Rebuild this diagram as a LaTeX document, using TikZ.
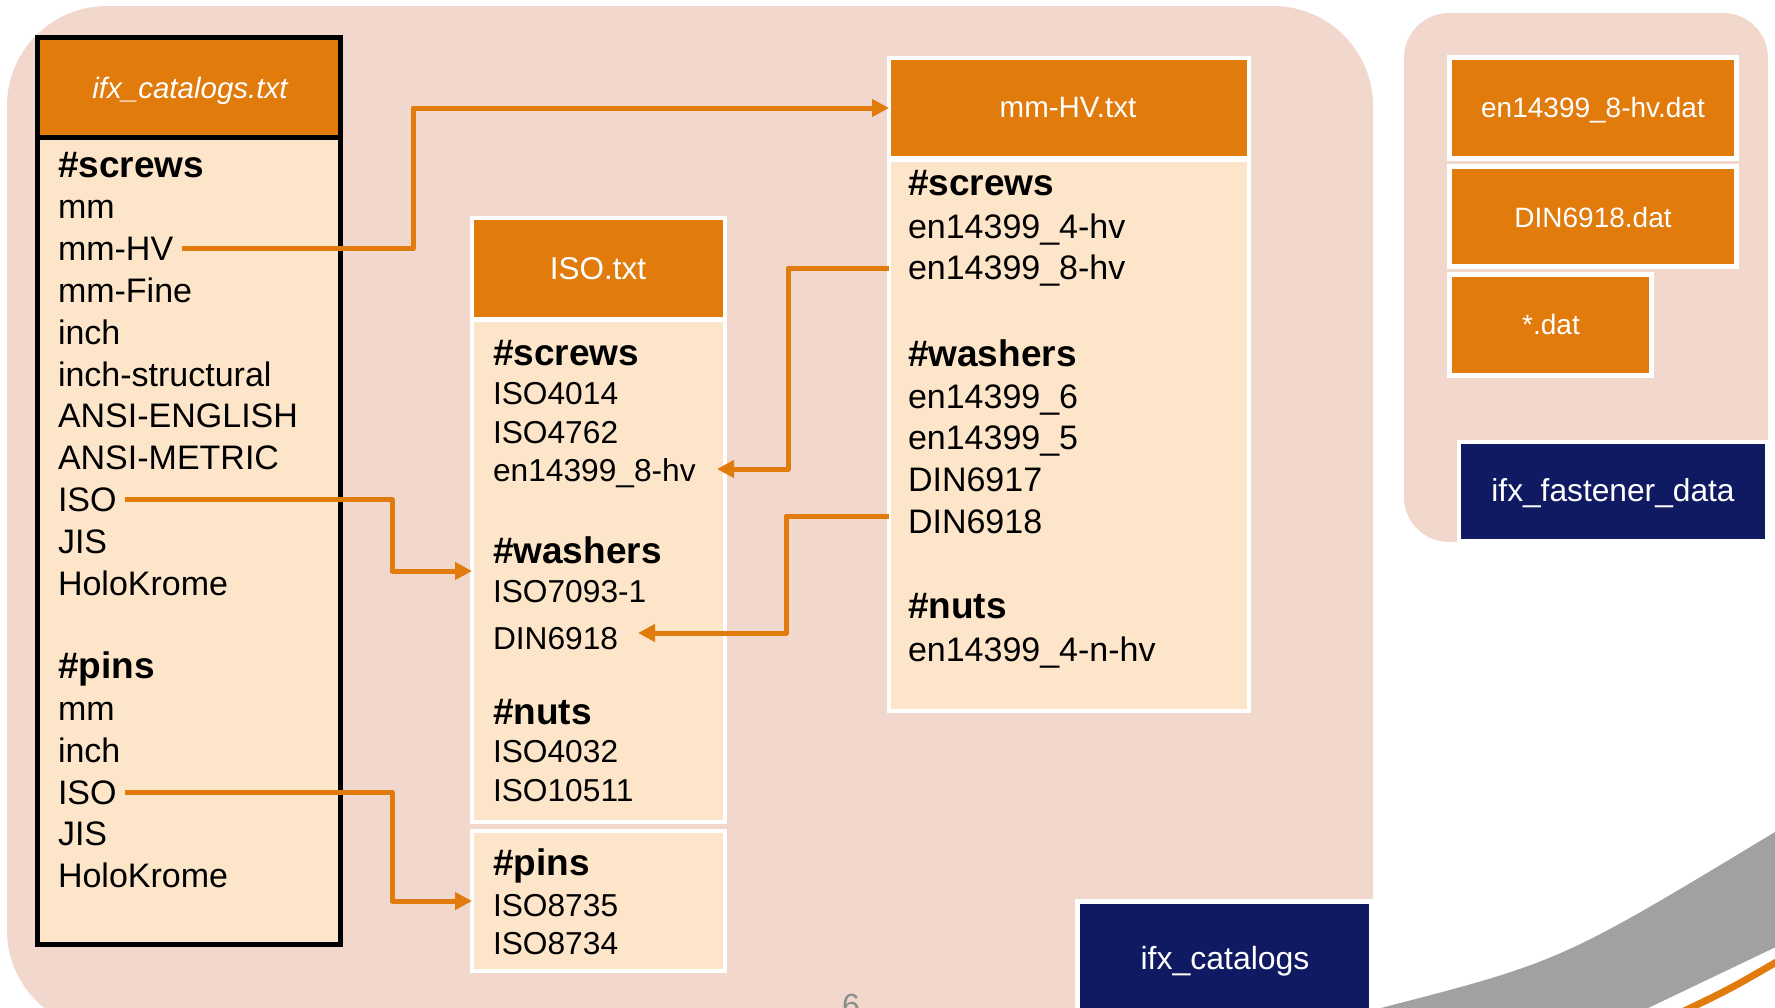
\documentclass[tikz,border=0pt]{standalone}
\usepackage{fontspec}
\setmainfont{Liberation Sans}
\usetikzlibrary{arrows.meta,calc}
\definecolor{bgpink}{HTML}{F2D7CD}
\definecolor{peach}{HTML}{FDE5C9}
\definecolor{hdrorange}{HTML}{E07B0C}
\definecolor{navy}{HTML}{0F1A62}
\definecolor{swooshgray}{HTML}{A1A1A1}
\definecolor{pagegray}{HTML}{8C8C8C}
\begin{document}
\begin{tikzpicture}[x=1pt,y=-1pt,
  rect/.style={anchor=north west, inner sep=0pt, outer sep=0pt},
  blackhdr/.style={rect, fill=hdrorange, draw=black, line width=5pt},
  blackbody/.style={rect, fill=peach, draw=black, line width=5pt},
  whitehdr/.style={rect, fill=hdrorange, draw=white, line width=4pt},
  whitebody/.style={rect, fill=peach, draw=white, line width=4pt},
  datbox/.style={rect, fill=hdrorange, draw=white, line width=5pt},
  bluebox/.style={rect, fill=navy, draw=white, line width=4.5pt},
  item/.style={anchor=base west, inner sep=0pt, outer sep=0pt, text=black, font=\fontsize{34}{40}\selectfont},
  sitem/.style={item, font=\fontsize{31.7}{38}\selectfont},
  head/.style={item, font=\fontsize{37}{44}\selectfont\bfseries},
  title/.style={anchor=base, inner sep=0pt, outer sep=0pt, text=white, font=\fontsize{29.5}{35}\selectfont},
  conn/.style={draw=hdrorange, line width=5pt, line join=round},
  tip/.style={-{Triangle[length=17pt,width=17pt]}}
]
\useasboundingbox (0,0) rectangle (1775,1007);
\clip (0,0) rectangle (1775,1007);
\fill[white] (0,0) rectangle (1775,1007);

% background panels
\fill[bgpink, rounded corners=100pt] (7,6) rectangle (1373,1030);
\fill[bgpink, rounded corners=45pt] (1404,13) rectangle (1768,542);

% swoosh
\fill[swooshgray] (1373,1010) .. controls (1560,962) .. (1775,832) -- (1780,832) -- (1780,945) .. controls (1712,978) .. (1644,1010) -- cycle;
\draw[hdrorange, line width=7pt] (1680,1013) .. controls (1730,989) .. (1780,960);

% page number
\node[anchor=base, inner sep=0pt, text=pagegray, font=\fontsize{32}{36}\selectfont] (pagenum) at (851,1016) {6};

% ---------- ifx_catalogs.txt ----------
\node[blackbody, minimum width=303pt, minimum height=807pt] (catbody) at (37.5,137.5) {};
\node[blackhdr, minimum width=303pt, minimum height=100pt] (cathead) at (37.5,37.5) {};
\node[title] (cattitle) at (190,98) {\itshape ifx\_catalogs.txt};

\node[head] (cs) at (58,177) {\#screws};
\node[item] (c1) at (58,218.8) {mm};
\node[item] (cmmhv) at (58,260.6) {mm-HV};
\node[item] (c3) at (58,302.4) {mm-Fine};
\node[item] (c4) at (58,344.2) {inch};
\node[item] (c5) at (58,386) {inch-structural};
\node[item] (c6) at (58,427.8) {ANSI-ENGLISH};
\node[item] (c7) at (58,469.6) {ANSI-METRIC};
\node[item] (ciso) at (58,511.4) {ISO};
\node[item] (c9) at (58,553.2) {JIS};
\node[item] (c10) at (58,595) {HoloKrome};
\node[head] (cp) at (58,678.6) {\#pins};
\node[item] (p1) at (58,720.4) {mm};
\node[item] (p2) at (58,762.2) {inch};
\node[item] (piso) at (58,804) {ISO};
\node[item] (p4) at (58,845.8) {JIS};
\node[item] (p5) at (58,887.6) {HoloKrome};

% ---------- ISO.txt ----------
\node[whitebody, minimum width=253pt, minimum height=502pt] (isobody) at (472,320) {};
\node[whitehdr, minimum width=253pt, minimum height=101pt] (isohead) at (472,218) {};
\node[whitebody, minimum width=253pt, minimum height=140pt] (isopins) at (472,831) {};
\node[title, font=\fontsize{31.5}{36}\selectfont] (isotitle) at (598,279) {ISO.txt};

\node[head] (is) at (493,365) {\#screws};
\node[sitem] (i1) at (493,404) {ISO4014};
\node[sitem] (i2) at (493,443) {ISO4762};
\node[sitem] (ien) at (493,481) {en14399\_8-hv};
\node[head] (iw) at (493,563) {\#washers};
\node[sitem] (i4) at (493,602) {ISO7093-1};
\node[sitem] (idin) at (493,649) {DIN6918};
\node[head] (in) at (493,724) {\#nuts};
\node[sitem] (i6) at (493,762) {ISO4032};
\node[sitem] (i7) at (493,801) {ISO10511};
\node[head] (ip) at (493,875) {\#pins};
\node[sitem] (i8) at (493,916) {ISO8735};
\node[sitem] (i9) at (493,954) {ISO8734};

% ---------- mm-HV.txt ----------
\node[whitebody, minimum width=360pt, minimum height=551pt] (hvbody) at (889,160) {};
\node[whitehdr, minimum width=360pt, minimum height=100pt] (hvhead) at (889,58) {};
\node[title] (hvtitle) at (1068,117) {mm-HV.txt};

\node[head] (hs) at (908,195) {\#screws};
\node[item] (h1) at (908,238) {en14399\_4-hv};
\node[item] (h2) at (908,279) {en14399\_8-hv};
\node[head] (hw) at (908,366) {\#washers};
\node[item] (h3) at (908,408) {en14399\_6};
\node[item] (h4) at (908,449) {en14399\_5};
\node[item] (h5) at (908,491) {DIN6917};
\node[item] (h6) at (908,533) {DIN6918};
\node[head] (hn) at (908,618) {\#nuts};
\node[item] (h7) at (908,661) {en14399\_4-n-hv};

% ---------- ifx_fastener_data ----------
\node[datbox, minimum width=287pt, minimum height=101pt] (d1) at (1449.5,57.5) {};
\node[datbox, minimum width=287pt, minimum height=100pt] (d2) at (1449.5,166.5) {};
\node[datbox, minimum width=202pt, minimum height=101pt] (d3) at (1449.5,274.5) {};
\node[title, font=\fontsize{28}{34}\selectfont] (d1t) at (1593,117) {en14399\_8-hv.dat};
\node[title, font=\fontsize{28}{34}\selectfont] (d2t) at (1593,227) {DIN6918.dat};
\node[title, font=\fontsize{28}{34}\selectfont] (d3t) at (1551,334) {*.dat};

\node[bluebox, minimum width=308.5pt, minimum height=99.5pt] (fastbox) at (1458.75,441.75) {};
\node[title, font=\fontsize{31.7}{38}\selectfont] (fastt) at (1613,501) {ifx\_fastener\_data};

\node[bluebox, minimum width=294pt, minimum height=130pt] (catsbox) at (1077.5,901.5) {};
\node[title, font=\fontsize{32}{38}\selectfont] (catst) at (1225,969) {ifx\_catalogs};

% ---------- connectors ----------
\coordinate (k1) at (413,108);
\coordinate (k2) at (392,571);
\coordinate (k3) at (392,901);
\coordinate (r4) at (0,268);
\coordinate (k4) at (788,469);
\coordinate (t4) at (717,469);
\coordinate (r5) at (0,516);
\coordinate (k5) at (786,633);
\coordinate (t5) at (638,633);

\draw[conn, tip] ([xshift=9pt]cmmhv.east) -| (k1) -- (hvhead.west);
\draw[conn, tip] ([xshift=8pt]ciso.east) -| (k2) -- (isobody.west |- k2);
\draw[conn, tip] ([xshift=8pt]piso.east) -| (k3) -- (isopins.west |- k3);
\draw[conn, tip] (hvbody.west |- r4) -| (k4) -- (t4);
\draw[conn, tip] (hvbody.west |- r5) -| (k5) -- (t5);
\end{tikzpicture}
\end{document}
